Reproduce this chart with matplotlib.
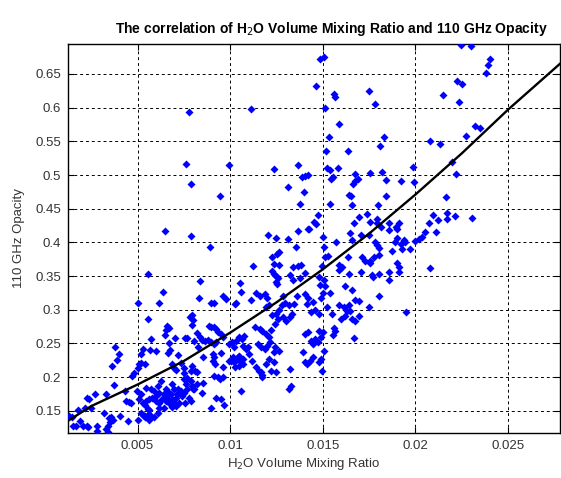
import matplotlib
matplotlib.use('Agg')
import matplotlib.pyplot as plt

plt.rcParams['font.family'] = ['Liberation Sans', 'DejaVu Sans']

# scatter points (x = H2O VMR, y = opacity)
upper_ratio = [0.00776, 0.01115, 0.00762, 0.00995, 0.0079, 0.00944, 0.01235, 0.01368, 0.01386, 0.01406,
               0.01422, 0.01314, 0.01401, 0.01375, 0.00648, 0.0079, 0.01204, 0.01245, 0.01314, 0.01368,
               0.01422,
               0.02245, 0.02299, 0.01484, 0.01507, 0.02405, 0.02392, 0.02383, 0.01462, 0.02225, 0.0225,
               0.01561, 0.01567, 0.01752, 0.02151, 0.01784, 0.02234, 0.01511, 0.01585, 0.01532, 0.01833,
               0.01811, 0.02322, 0.02347, 0.02275, 0.02077, 0.02133, 0.0152, 0.01635, 0.022, 0.0222,
               0.01525, 0.01538, 0.01581, 0.01556, 0.01547, 0.01673, 0.01757, 0.01822, 0.01844, 0.01689,
               0.01676, 0.01664, 0.01924, 0.01987, 0.0199, 0.01644, 0.01651, 0.01844, 0.01538, 0.01658,
               0.018, 0.02164, 0.01473, 0.01739, 0.01696, 0.01795, 0.01671, 0.01754, 0.01795, 0.01856,
               0.01812, 0.0191, 0.0145, 0.01464, 0.01428, 0.02097, 0.02169, 0.02212, 0.02124, 0.02076,
               0.02169, 0.02306, 0.01897]
upper_opacity = [0.5936, 0.5985, 0.5168, 0.5149, 0.4866, 0.4683, 0.5089, 0.5144, 0.497, 0.4985,
                 0.4995, 0.482, 0.4748, 0.4569, 0.4163, 0.4089, 0.411, 0.4059, 0.405, 0.4168,
                 0.42,
                 0.693, 0.692, 0.6718, 0.6752, 0.6718, 0.6634, 0.651, 0.6327, 0.6396, 0.6347,
                 0.6198, 0.6163, 0.6243, 0.6188, 0.6059, 0.6089, 0.6, 0.5762, 0.5559, 0.5559,
                 0.5436, 0.5733, 0.5693, 0.5579, 0.551, 0.546, 0.5356, 0.5356, 0.5188, 0.5015,
                 0.5099, 0.508, 0.51, 0.497, 0.4941, 0.5015, 0.5035, 0.505, 0.4931, 0.4941,
                 0.491, 0.487, 0.491, 0.5119, 0.489, 0.4703, 0.4683, 0.4693, 0.4569, 0.4554,
                 0.4554, 0.4673, 0.4401, 0.4416, 0.4371, 0.4351, 0.4282, 0.4307, 0.4282, 0.4292,
                 0.4233, 0.4292, 0.4307, 0.4267, 0.4203, 0.4401, 0.444, 0.4396, 0.4337, 0.4292,
                 0.4342, 0.4356, 0.4233]

right_ratio = [0.01856, 0.01903, 0.02112, 0.02051, 0.02022, 0.02036, 0.02, 0.01937, 0.01946, 0.01925,
               0.01901, 0.01892, 0.01874, 0.01928, 0.01973, 0.01901, 0.0191, 0.0191, 0.0186, 0.01856,
               0.01806, 0.01766, 0.0177, 0.01709, 0.01644, 0.01619, 0.01658, 0.01676, 0.01694, 0.01757,
               0.0173, 0.01754, 0.01802, 0.01784, 0.01793, 0.01802, 0.01775, 0.01712, 0.01604, 0.0159,
               0.01586, 0.01637, 0.01572, 0.015, 0.01505, 0.01514, 0.01529, 0.01496, 0.01505, 0.01478,
               0.01487, 0.01514, 0.01541, 0.015, 0.01493, 0.01523, 0.01586, 0.01613, 0.0164, 0.01748,
               0.01806, 0.01709, 0.01748, 0.01658, 0.01649, 0.02081, 0.01952,
               0.0155, 0.01559, 0.01565, 0.01554, 0.01631, 0.01649, 0.01622, 0.01601, 0.01658, 0.01673,
               0.01698, 0.01667]
right_opacity = [0.4183, 0.4193, 0.4158, 0.4158, 0.4045, 0.4074, 0.4025, 0.4035, 0.401, 0.3975,
                 0.4059, 0.401, 0.3871, 0.3901, 0.3901, 0.3688, 0.3629, 0.3564, 0.3441, 0.3564,
                 0.353, 0.3515, 0.349, 0.3564, 0.353, 0.3352, 0.3292, 0.3144, 0.3134, 0.3688,
                 0.3723, 0.3723, 0.3812, 0.401, 0.396, 0.3911, 0.3787, 0.3787, 0.3639, 0.3663,
                 0.3589, 0.3787, 0.4005, 0.4084, 0.3936, 0.3787, 0.3797, 0.3649, 0.3441, 0.349,
                 0.3366, 0.3352, 0.3243, 0.3243, 0.3168, 0.3035, 0.3069, 0.3035, 0.3069, 0.3045,
                 0.3203, 0.4109, 0.4109, 0.4035, 0.4134, 0.3614, 0.297,
                 0.293, 0.2731, 0.2682, 0.2632, 0.298, 0.298, 0.2905, 0.2856, 0.2856, 0.2831,
                 0.2905, 0.2582]

middle_ratio = [0.00784, 0.00802, 0.00793, 0.00796,
                0.00887, 0.00899, 0.00912, 0.00922, 0.00935, 0.00952, 0.00961,
                0.00837, 0.00846, 0.00864, 0.00882, 0.00894, 0.00912, 0.00926, 0.00829,
                0.00855, 0.00908, 0.00913, 0.00905, 0.00917, 0.00961, 0.00952,
                0.00993, 0.01005, 0.01014, 0.01023, 0.01032, 0.01041, 0.01049, 0.01058, 0.01067, 0.01071,
                0.01046, 0.01028,
                0.00993, 0.01011, 0.01023, 0.01032, 0.01049, 0.01064, 0.01076, 0.01067, 0.01085, 0.01099,
                0.01102, 0.01117, 0.01138, 0.01156, 0.0117, 0.01191, 0.01209, 0.01235, 0.01223, 0.01247,
                0.01152, 0.01164, 0.01187, 0.012, 0.01217, 0.01244, 0.01262, 0.01235,
                0.01134, 0.01159, 0.01173, 0.01191, 0.01209, 0.01223, 0.0124, 0.01258, 0.01283, 0.01304,
                0.01323, 0.01332, 0.01346, 0.01315, 0.01297, 0.01279, 0.01262, 0.01247, 0.01226, 0.01209,
                0.01194,
                0.01403, 0.01421, 0.01435, 0.01447, 0.01456, 0.01474, 0.01491, 0.01482, 0.015, 0.01456,
                0.01438, 0.01482, 0.01417, 0.01447,
                0.01394, 0.01403, 0.01417, 0.01429, 0.01447, 0.01482, 0.01491, 0.01495, 0.01505,
                0.01323, 0.01315, 0.01329, 0.01164, 0.0117,
                0.00811, 0.0082, 0.00823, 0.00802, 0.00855, 0.00846, 0.00899, 0.00922, 0.00952, 0.00966,
                0.01058, 0.00912, 0.00935, 0.00947, 0.00961]
middle_opacity = [0.2891, 0.2841, 0.2915, 0.2771,
                  0.2766, 0.2751, 0.2741, 0.2716, 0.2667, 0.2642, 0.2592,
                  0.2592, 0.2552, 0.2542, 0.2552, 0.2517, 0.2493, 0.2517, 0.2443,
                  0.2294, 0.2343, 0.2294, 0.2244, 0.2194, 0.2144, 0.2353,
                  0.2244, 0.2244, 0.2294, 0.2219, 0.2254, 0.2294, 0.2318, 0.2219, 0.2269, 0.2194,
                  0.2169, 0.2144,
                  0.2493, 0.2517, 0.2443, 0.2542, 0.2592, 0.2567, 0.2617, 0.2468, 0.2418, 0.2443,
                  0.2343, 0.2234, 0.2144, 0.2095, 0.2035, 0.2194, 0.2269, 0.2219, 0.2095, 0.207,
                  0.2493, 0.2443, 0.2418, 0.2468, 0.2517, 0.2443, 0.2393, 0.2368,
                  0.2751, 0.2716, 0.2692, 0.2642, 0.2602, 0.2701, 0.2791, 0.2866, 0.2891, 0.2831,
                  0.2891, 0.294, 0.309, 0.3065, 0.31, 0.3065, 0.299, 0.294, 0.2915, 0.3065,
                  0.304,
                  0.2642, 0.2667, 0.2542, 0.2493, 0.2567, 0.2517, 0.2592, 0.2692, 0.2667, 0.299,
                  0.2965, 0.294, 0.309, 0.3114,
                  0.2368, 0.2219, 0.2194, 0.2244, 0.2294, 0.2219, 0.2269, 0.2095, 0.2393,
                  0.2119, 0.1821, 0.1871, 0.207, 0.1995,
                  0.2095, 0.207, 0.1896, 0.1821, 0.192, 0.1771, 0.1547, 0.1697, 0.1672, 0.1582,
                  0.1796, 0.202, 0.1995, 0.197, 0.2005]

mid_upper_ratio = [0.00554, 0.00635, 0.00617, 0.005, 0.00556, 0.00661, 0.00653, 0.00671, 0.0065,
                   0.00893, 0.01224, 0.01255, 0.01264, 0.01235, 0.01264, 0.01357, 0.01339, 0.01368, 0.01384,
                   0.01123, 0.01224, 0.01235, 0.01249, 0.01258, 0.01245, 0.01255, 0.01321, 0.01339, 0.01375,
                   0.01402, 0.00838, 0.01052, 0.0083, 0.00964, 0.00978, 0.0106, 0.01115, 0.01137, 0.01159,
                   0.01188, 0.012, 0.01285, 0.01361, 0.01402, 0.01421, 0.01032, 0.01025, 0.00899, 0.00912]
mid_upper_opacity = [0.3537, 0.3269, 0.3104, 0.3104, 0.2856, 0.2756, 0.2706, 0.2731, 0.2632,
                     0.3925, 0.3786, 0.3826, 0.3861, 0.3677, 0.3662, 0.3925, 0.3637, 0.3652, 0.3667,
                     0.3652, 0.3577, 0.3527, 0.35, 0.3478, 0.3418, 0.3378, 0.3517, 0.3438, 0.3478,
                     0.3552, 0.3428, 0.3398, 0.3169, 0.3199, 0.3154, 0.3269, 0.3144, 0.3249, 0.3199,
                     0.3229, 0.3179, 0.3204, 0.3204, 0.3229, 0.3179, 0.3104, 0.308, 0.3104, 0.3104]

lower_ratio = [0.00376, 0.00398, 0.00389, 0.00362, 0.00371, 0.0033, 0.00272, 0.00226, 0.00237, 0.00249,
               0.00219, 0.00177, 0.00147, 0.00129, 0.0019, 0.00154, 0.00168, 0.00208, 0.00226, 0.00231,
               0.0028, 0.0028, 0.00317, 0.00344, 0.00357, 0.00366, 0.00339, 0.00351, 0.0033, 0.00339,
               0.00407, 0.00446, 0.00437, 0.00455, 0.00464, 0.00468, 0.00482, 0.00433,
               0.00532, 0.00566, 0.00572, 0.00599, 0.00667, 0.00676, 0.00703, 0.00756, 0.00769, 0.0072,
               0.00685, 0.00805, 0.00823, 0.00671, 0.00697, 0.0071, 0.00733, 0.00751, 0.00751, 0.00787,
               0.00796,
               0.005, 0.00509, 0.00518, 0.00541, 0.00518, 0.00495, 0.00518, 0.00509, 0.00527, 0.00541,
               0.00554, 0.00563, 0.00518, 0.00541, 0.00572, 0.00563, 0.00548, 0.00572, 0.0059, 0.00608,
               0.00625, 0.00616, 0.00599, 0.0058, 0.00563, 0.00548, 0.00599, 0.00616, 0.00634, 0.00643,
               0.00652, 0.00661, 0.0067, 0.00679, 0.00661, 0.00652, 0.0067, 0.00688, 0.00697, 0.00706,
               0.00715, 0.00697, 0.00688, 0.0072, 0.00733, 0.00742, 0.00751, 0.00769, 0.0076, 0.00751,
               0.00769, 0.00787, 0.00796, 0.00805, 0.00778, 0.00787, 0.00756, 0.00724, 0.00706, 0.00688,
               0.00643, 0.00616, 0.00608, 0.0059, 0.00563, 0.00541, 0.00505, 0.00527]
lower_opacity = [0.2451, 0.2337, 0.2249, 0.2165, 0.1884, 0.1746, 0.1746, 0.1697, 0.1672, 0.1549,
                 0.1539, 0.1515, 0.1411, 0.1426, 0.1352, 0.1278, 0.1278, 0.1278, 0.1278, 0.1263,
                 0.1278, 0.1204, 0.1475, 0.1392, 0.1411, 0.1362, 0.1278, 0.1327, 0.1229, 0.1185,
                 0.1426, 0.1352, 0.1648, 0.1638, 0.1623, 0.2017, 0.2066, 0.1796,
                 0.2411, 0.2396, 0.2559, 0.2387, 0.2362, 0.2397, 0.2584, 0.2574, 0.2574, 0.2328,
                 0.219, 0.2534, 0.2658, 0.2507, 0.214, 0.21, 0.2214, 0.214, 0.2066, 0.2091,
                 0.2165,
                 0.214, 0.219, 0.2214, 0.219, 0.2337, 0.1796, 0.1746, 0.1672, 0.1623, 0.1589,
                 0.1525, 0.1451, 0.1475, 0.1426, 0.1411, 0.151, 0.1845, 0.182, 0.1796, 0.1869,
                 0.1943, 0.1771, 0.1722, 0.1697, 0.1672, 0.1648, 0.1648, 0.1623, 0.1672, 0.1746,
                 0.182, 0.1796, 0.1771, 0.1746, 0.1697, 0.1648, 0.1623, 0.1672, 0.1623, 0.1697,
                 0.1746, 0.182, 0.1894, 0.182, 0.1796, 0.1722, 0.1771, 0.182, 0.1894, 0.1968,
                 0.1993, 0.1943, 0.1869, 0.182, 0.1697, 0.1648, 0.1623, 0.1623, 0.1574, 0.1559,
                 0.1549, 0.1539, 0.1461, 0.1411, 0.1362, 0.1411, 0.1363, 0.1438]

# fitted curve, read at a few positions along the line
fit_ratio = [0.00124, 0.0025, 0.005, 0.0075, 0.01, 0.0125, 0.015, 0.0175, 0.02, 0.0225, 0.025, 0.0278]
fit_opacity = [0.135, 0.157, 0.189, 0.224, 0.266, 0.311, 0.36, 0.413, 0.471, 0.532, 0.597, 0.665]

x_ticks = [0.005, 0.01, 0.015, 0.02, 0.025]
x_tick_labels = ['0.005', '0.01', '0.015', '0.02', '0.025']
y_ticks = [0.15, 0.2, 0.25, 0.3, 0.35, 0.4, 0.45, 0.5, 0.55, 0.6, 0.65]
y_tick_labels = ['0.15', '0.2', '0.25', '0.3', '0.35', '0.4', '0.45', '0.5', '0.55', '0.6', '0.65']

ratio = upper_ratio + right_ratio + middle_ratio + mid_upper_ratio + lower_ratio
opacity = upper_opacity + right_opacity + middle_opacity + mid_upper_opacity + lower_opacity

fig = plt.figure(figsize=(5.61, 4.78), dpi=100)
ax = fig.add_axes([0.121, 0.094, 0.877, 0.814])

ax.plot(ratio, opacity, linestyle='', marker='D', ms=3.8, color='#0000ff', mec='none', zorder=3)
ax.plot(fit_ratio, fit_opacity, color='black', lw=1.7, zorder=4)

ax.set_xlim(0.00124, 0.0278)
ax.set_ylim(0.117, 0.6945)
ax.set_xticks(x_ticks)
ax.set_xticklabels(x_tick_labels)
ax.set_yticks(y_ticks)
ax.set_yticklabels(y_tick_labels)
ax.tick_params(direction='in', length=4, labelsize=9.5, colors='black', top=True, right=True, pad=5)
for lbl in ax.get_xticklabels() + ax.get_yticklabels():
    lbl.set_color('#333333')

ax.grid(True, color='black', linestyle=(0, (3, 3)), linewidth=0.7)
ax.set_axisbelow(True)
for s in ax.spines.values():
    s.set_linewidth(1.0)

ax.set_title('The correlation of H$_2$O Volume Mixing Ratio and 110 GHz Opacity',
             fontsize=10, fontweight='bold', pad=8, x=0.535)
ax.set_xlabel('H$_2$O Volume Mixing Ratio', fontsize=9.5, color='#333333', labelpad=4)
ax.xaxis.set_label_coords(0.478, -0.06)
ax.set_ylabel('110 GHz Opacity', fontsize=9.5, color='#333333', labelpad=7)

fig.savefig('out.png', dpi=100)
